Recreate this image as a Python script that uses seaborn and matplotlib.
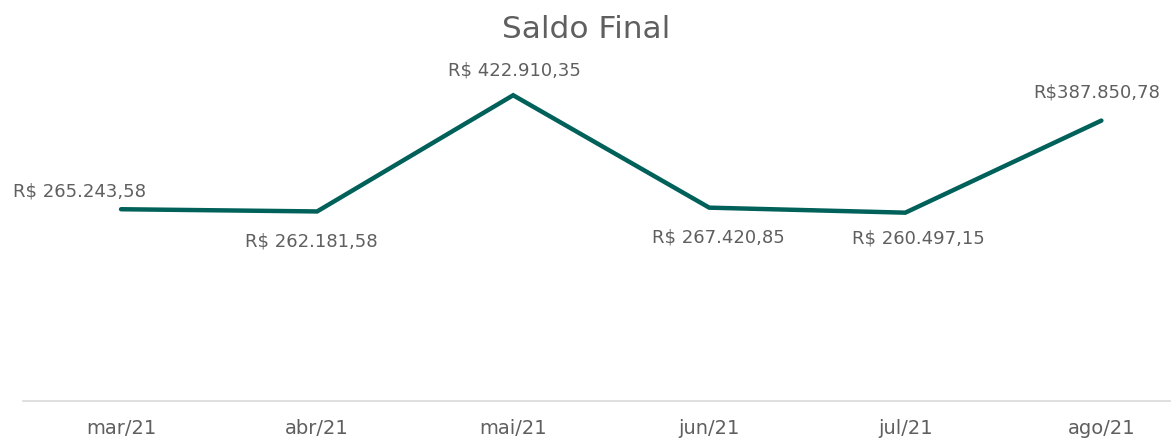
import matplotlib
matplotlib.use("Agg")
import matplotlib.pyplot as plt
import seaborn as sns
import pandas as pd

months = ["mar/21", "abr/21", "mai/21", "jun/21", "jul/21", "ago/21"]
saldo = [265243.58, 262181.58, 422910.35, 267420.85, 260497.15, 387850.78]
labels = ["R$ 265.243,58", "R$ 262.181,58", "R$ 422.910,35",
          "R$ 267.420,85", "R$ 260.497,15", "R$387.850,78"]
# label offsets in pixels (dx, dy) relative to each point
offsets = [(-42, 18), (-6, -30), (1, 25), (9, -30), (13, -26), (-5, 28)]

sns.set_theme(style="white")
plt.rcParams['font.family'] = ['DejaVu Sans']

df = pd.DataFrame({"mes": months, "saldo": saldo, "x": range(len(months))})

fig = plt.figure(figsize=(11.72, 4.41), dpi=100)
ax = fig.add_axes([23/1172, 40/441, (1170-23)/1172, (401-39.5)/441])

color = "#00605A"
sns.lineplot(data=df, x="x", y="saldo", ax=ax, color=color, linewidth=3.2,
             solid_capstyle="round", solid_joinstyle="miter")

for i, (v, lab, (dx, dy)) in enumerate(zip(saldo, labels, offsets)):
    ax.annotate(lab, (i, v), xytext=(dx, dy), textcoords="offset pixels",
                ha="center", va="center", fontsize=13, color="#5f5f5f")

ax.set_xlim(-0.5, 5.35)
ax.set_ylim(0, 500000)
ax.set_xticks(range(len(months)))
ax.set_xticklabels(months, fontsize=14, color="#5f5f5f")
ax.tick_params(axis="x", length=0, pad=13)
ax.set_yticks([])
ax.set_xlabel("")
ax.set_ylabel("")
for s in ["top", "right", "left"]:
    ax.spines[s].set_visible(False)
ax.spines["bottom"].set_color("#D9D9D9")
ax.spines["bottom"].set_linewidth(1.2)

fig.text(586/1172, 1 - 29/441, "Saldo Final", ha="center", va="center",
         fontsize=22.5, color="#5f5f5f")

fig.savefig("out.png", dpi=100)
